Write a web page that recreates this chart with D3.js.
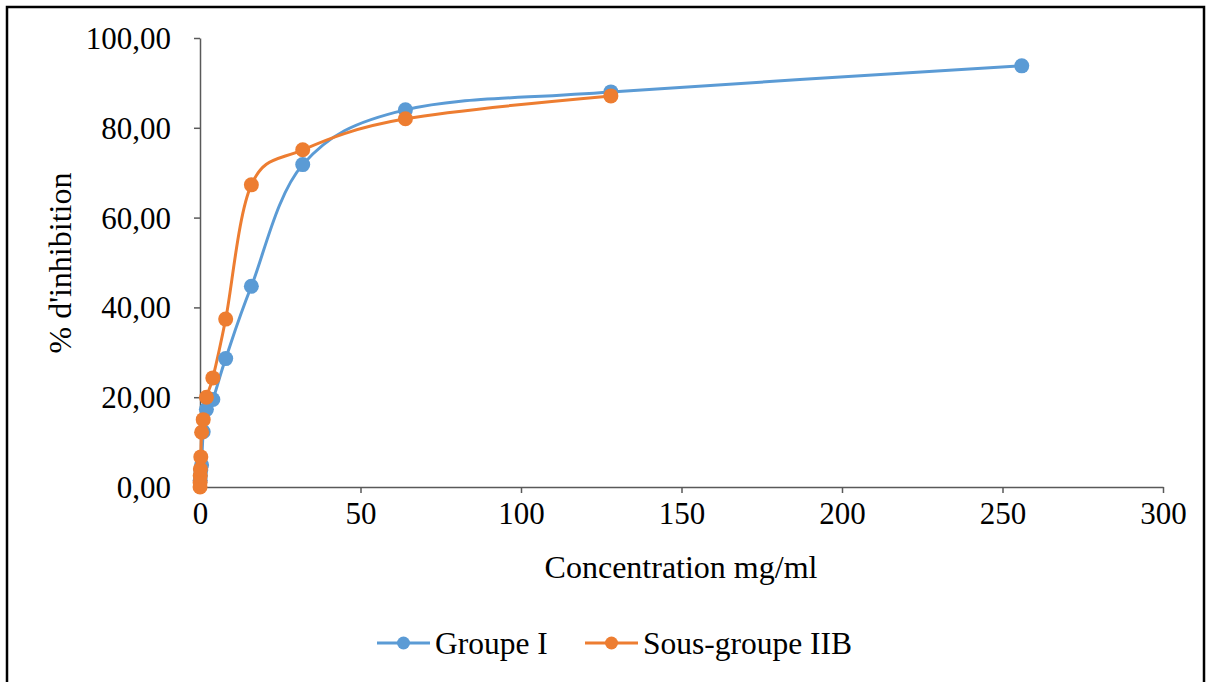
<!DOCTYPE html>
<html><head><meta charset="utf-8">
<script src="https://cdn.jsdelivr.net/npm/d3@7"></script>
<style>body{margin:0;background:#fff}svg{display:block}text{font-family:'Liberation Serif','Times New Roman',serif}</style>
</head><body>
<svg id="c" width="1212" height="682"></svg>
<script>
const seriesNames = ["Groupe I", "Sous-groupe IIB"];
const concGroupeI = [0.0625, 0.125, 0.25, 0.5, 1, 2, 4, 8, 16, 32, 64, 128, 256];
const valGroupeI  = [1.5, 2.5, 3.8, 4.9, 12.3, 17.3, 19.5, 28.6, 44.7, 71.8, 84.0, 88.0, 93.8];
const concIIB = [0.015625, 0.03125, 0.0625, 0.125, 0.25, 0.5, 1, 2, 4, 8, 16, 32, 64, 128];
const valIIB  = [0.0, 1.0, 2.5, 4.0, 6.7, 12.2, 15.0, 20.0, 24.3, 37.4, 67.3, 75.1, 82.0, 87.1];
const xTicks = [0, 50, 100, 150, 200, 250, 300];
const yTicks = [0, 20, 40, 60, 80, 100];
const colors = ["#5B9BD5", "#ED7D31"];

const svg = d3.select("#c");
const font = "'Liberation Serif','Times New Roman',serif";
svg.append("rect").attr("x",7).attr("y",7).attr("width",1197).attr("height",690)
  .attr("fill","none").attr("stroke","#000").attr("stroke-width",2.5);

const x = d3.scaleLinear().domain([0,300]).range([200,1163]);
const y = d3.scaleLinear().domain([0,100]).range([487,38]);

const fmt = d => d3.format(".2f")(d).replace(".", ",");

const xAxis = svg.append("g").attr("transform","translate(0,487)")
  .call(d3.axisBottom(x).tickValues(xTicks).tickSize(6).tickSizeOuter(0).tickPadding(9));
const yAxis = svg.append("g").attr("transform","translate(200,0)")
  .call(d3.axisLeft(y).tickValues(yTicks).tickFormat(fmt).tickSize(6).tickSizeOuter(0).tickPadding(23));
[xAxis, yAxis].forEach(g => {
  g.attr("font-family", font).attr("font-size", 31);
  g.select(".domain").attr("stroke","#595959").attr("stroke-width",1.5);
  g.selectAll(".tick line").attr("stroke","#595959").attr("stroke-width",1.5);
  g.selectAll(".tick text").style("font-family",font).style("font-size","31px").attr("fill","#000");
});
yAxis.selectAll(".tick text").attr("dy","0.34em");

svg.append("text").attr("x",681).attr("y",578).attr("text-anchor","middle")
  .style("font-family",font).style("font-size","32px").text("Concentration mg/ml");
svg.append("text").attr("transform","translate(71,263) rotate(-90)").attr("text-anchor","middle")
  .style("font-family",font).style("font-size","32px").text("% d'inhibition");

const data = [
  concGroupeI.map((c,i)=>({c, v: valGroupeI[i]})),
  concIIB.map((c,i)=>({c, v: valIIB[i]}))
];
const line = d3.line().x(d=>x(d.c)).y(d=>y(d.v)).curve(d3.curveCardinal.tension(0));
data.forEach((ds,k)=>{
  svg.append("path").datum(ds).attr("d",line).attr("fill","none")
    .attr("stroke",colors[k]).attr("stroke-width",3);
});
data.forEach((ds,k)=>{
  svg.append("g").selectAll("circle").data(ds).join("circle")
    .attr("cx",d=>x(d.c)).attr("cy",d=>y(d.v)).attr("r",7.5).attr("fill",colors[k]);
});

// legend
const legX = [377, 585];
seriesNames.forEach((n,k)=>{
  const g = svg.append("g");
  g.append("line").attr("x1",legX[k]).attr("x2",legX[k]+53).attr("y1",643).attr("y2",643)
    .attr("stroke",colors[k]).attr("stroke-width",3);
  g.append("circle").attr("cx",legX[k]+26.5).attr("cy",643).attr("r",6.5).attr("fill",colors[k]);
  g.append("text").attr("x",legX[k]+58).attr("y",643).attr("dy","0.35em")
    .style("font-family",font).style("font-size","31.5px").text(n);
});
</script>
</body></html>
